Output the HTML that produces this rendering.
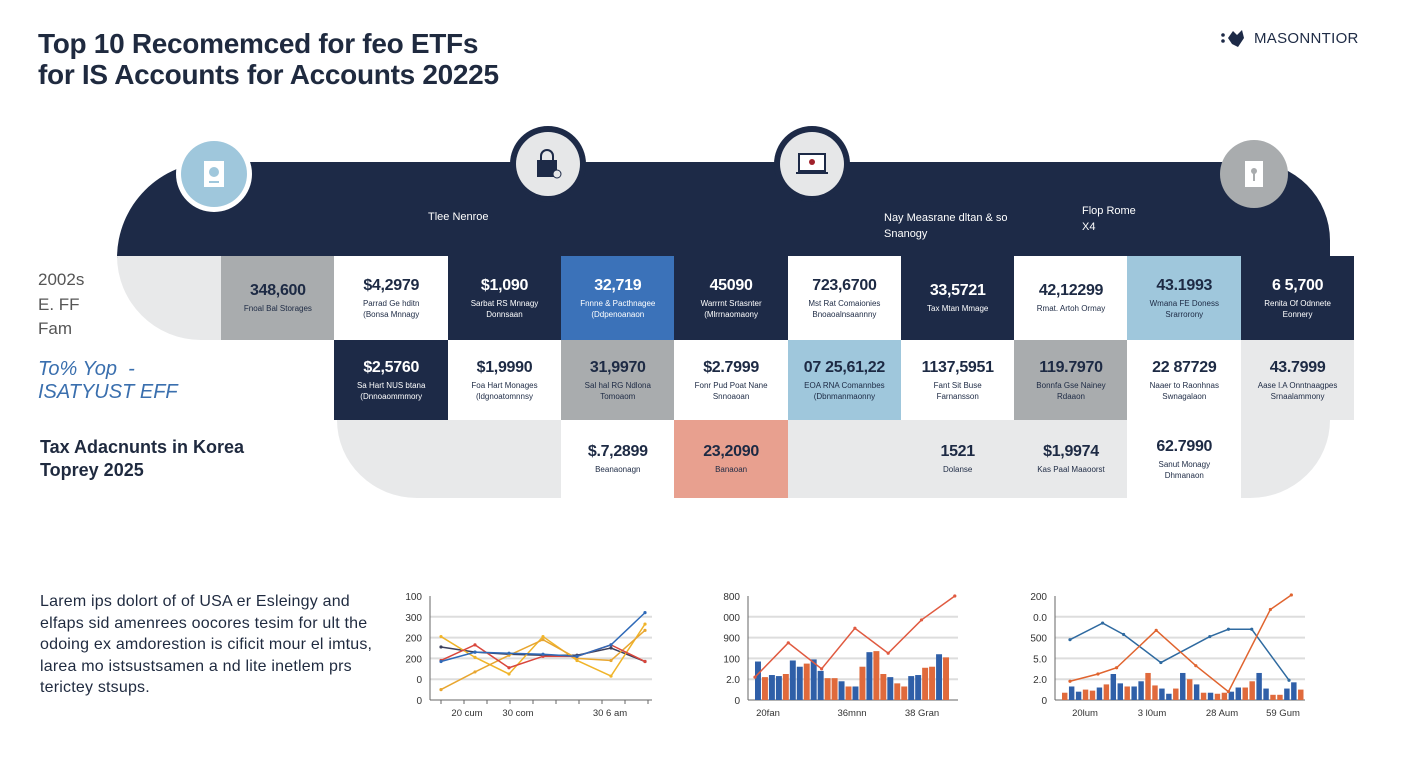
<!DOCTYPE html>
<html><head><meta charset="utf-8">
<style>
*{margin:0;padding:0;box-sizing:border-box}
body{width:1408px;height:768px;background:#fff;position:relative;overflow:hidden;font-family:"Liberation Sans",sans-serif;color:#1d2a44}
.abs{position:absolute}
.title{left:38px;font-weight:bold;font-size:28px;color:#1f2a3f;white-space:nowrap;letter-spacing:-0.3px}
.cell{position:absolute;text-align:center;display:flex;flex-direction:column;justify-content:center;align-items:center}
.cell .v{font-size:16px;font-weight:bold;letter-spacing:-0.3px}
.cell .s{font-size:8px;line-height:11px;margin-top:3px}
.navy{background:#1d2a47;color:#fff}
.white{background:#fff;color:#1d2a44}
.gray{background:#a9acae;color:#1d2a44}
.blue{background:#3b72b9;color:#fff}
.lblue{background:#9fc7dc;color:#1d2a44}
.lgray{background:#e8e9ea;color:#1d2a44}
.salmon{background:#e8a08f;color:#1d2a44}
.clear{background:transparent;color:#1d2a44}
.circle{position:absolute;border-radius:50%;display:flex;align-items:center;justify-content:center}
.band-txt{position:absolute;color:#fff;font-size:11px;line-height:16px}
</style></head><body>
<div class="abs title" style="top:28px">Top 10 Recomemced for feo ETFs</div>
<div class="abs title" style="top:59px">for IS Accounts for Accounts 20225</div>

<div class="abs" style="left:1220px;top:28px;display:flex;align-items:center;gap:6px">
<svg width="28" height="20"><circle cx="3" cy="7" r="1.8" fill="#1d2a47"/><circle cx="3" cy="13" r="1.8" fill="#1d2a47"/><path d="M8 10 L13 3 L17 7 L22 2 L24 10 L18 19 L12 16 Z" fill="#1d2a47"/></svg>
<span style="font-size:15px;color:#1d2a44;letter-spacing:0.3px">MASONNTIOR</span>
</div>

<div class="abs" style="left:117px;top:162px;width:1213px;height:96px;background:#1d2a47;border-radius:110px 90px 0 0"></div>
<div class="abs" style="left:117px;top:256px;width:110px;height:84px;background:#e8e9ea;border-radius:0 0 0 90px"></div>
<div class="abs" style="left:337px;top:420px;width:993px;height:78px;background:#e8e9ea;border-radius:0 0 80px 80px/0 0 78px 78px"></div>

<div class="circle" style="left:176px;top:136px;width:76px;height:76px;background:#fff"><div class="circle" style="left:5px;top:5px;width:66px;height:66px;background:#9fc7dc"><svg width="22" height="28"><rect x="1" y="1" width="20" height="26" fill="#fff"/><circle cx="11" cy="12" r="5" fill="#9fc7dc"/><rect x="6" y="21" width="10" height="2" fill="#9fc7dc"/></svg></div></div>
<div class="circle" style="left:510px;top:126px;width:76px;height:76px;background:#1d2a47"><div class="circle" style="left:6px;top:6px;width:64px;height:64px;background:#e6e7e8"><svg width="30" height="32"><path d="M8 12 V8 a6 6 0 0 1 12 0 V12" stroke="#1d2a47" stroke-width="2" fill="none"/><rect x="4" y="12" width="20" height="17" fill="#1d2a47"/><circle cx="24" cy="26" r="4" fill="#e6e7e8" stroke="#1d2a47"/></svg></div></div>
<div class="circle" style="left:774px;top:126px;width:76px;height:76px;background:#1d2a47"><div class="circle" style="left:6px;top:6px;width:64px;height:64px;background:#e6e7e8"><svg width="32" height="24"><rect x="3" y="2" width="26" height="17" fill="#fff" stroke="#1d2a47" stroke-width="2"/><circle cx="16" cy="10" r="3" fill="#a0202a"/><rect x="0" y="20" width="32" height="2" fill="#1d2a47"/></svg></div></div>
<div class="circle" style="left:1220px;top:140px;width:68px;height:68px;background:#a9acae"><svg width="20" height="28"><rect x="1" y="1" width="18" height="26" fill="#fff"/><circle cx="10" cy="11" r="3" fill="#a9acae"/><rect x="9" y="12" width="2" height="9" fill="#a9acae"/></svg></div>

<div class="band-txt" style="left:428px;top:209px">Tlee Nenroe</div>
<div class="band-txt" style="left:884px;top:210px">Nay Measrane dltan &amp; so<br>Snanogy</div>
<div class="band-txt" style="left:1082px;top:203px">Flop Rome<br>X4</div>

<div class="abs" style="left:38px;top:268px;font-size:17px;color:#555;line-height:24.5px">2002s<br>E. FF<br>Fam</div>
<div class="abs" style="left:38px;top:358px;font-size:20px;color:#3a6fae;font-style:italic;line-height:23px;font-weight:500">To% Yop &nbsp;-<br>ISATYUST EFF</div>
<div class="abs" style="left:40px;top:436px;font-size:18px;font-weight:bold;color:#1f2a3f;line-height:23px">Tax Adacnunts in Korea<br>Toprey 2025</div>

<div id="grid"></div>

<div class="abs" style="left:40px;top:591px;font-size:16px;line-height:21.5px;color:#1f2a3f;letter-spacing:0.2px">Larem ips dolort of of USA er Esleingy and<br>elfaps sid amenrees oocores tesim for ult the<br>odoing ex amdorestion is cificit mour el imtus,<br>larea mo istsustsamen a nd lite inetlem prs<br>terictey stsups.</div>

<svg id="charts" class="abs" style="left:0;top:0" width="1408" height="768"></svg>

<script>
const row1 = [
 ["gray","348,600","Fnoal Bal Storages",""],
 ["white","$4,2979","Parrad Ge hditn","(Bonsa Mnnagy"],
 ["navy","$1,090","Sarbat RS Mnnagy","Donnsaan"],
 ["blue","32,719","Fnnne & Pacthnagee","(Ddpenoanaon"],
 ["navy","45090","Warrrnt Srtasnter","(Mlrrnaomaony"],
 ["white","723,6700","Mst Rat Comaionies","Bnoaoalnsaannny"],
 ["navy","33,5721","Tax Mtan Mmage",""],
 ["white","42,12299","Rmat. Artoh Ormay",""],
 ["lblue","43.1993","Wmana FE Doness","Srarrorony"],
 ["navy","6 5,700","Renita Of Odnnete","Eonnery"]
];
const row2 = [
 ["navy","$2,5760","Sa Hart NUS btana","(Dnnoaommmory"],
 ["white","$1,9990","Foa Hart Monages","(ldgnoatomnnsy"],
 ["gray","31,9970","Sal hal RG Ndlona","Tomoaom"],
 ["white","$2.7999","Fonr Pud Poat Nane","Snnoaoan"],
 ["lblue","07 25,61,22","EOA RNA Comannbes","(Dbnmanmaonny"],
 ["white","1137,5951","Fant Sit Buse","Farnansson"],
 ["gray","119.7970","Bonnfa Gse Nainey","Rdaaon"],
 ["white","22 87729","Naaer to Raonhnas","Swnagalaon"],
 ["lgray","43.7999","Aase l.A Onntnaagpes","Srnaalammony"]
];
const row3 = [
 null,null,
 ["white","$.7,2899","Beanaonagn",""],
 ["salmon","23,2090","Banaoan",""],
 null,
 ["clear","1521","Dolanse",""],
 ["clear","$1,9974","Kas Paal Maaoorst",""],
 ["white","62.7990","Sanut Monagy","Dhmanaon"],
 null
];
const grid=document.getElementById('grid');
const colX0=221, colW=113.3;
function addRow(arr,startCol,top,h,rowName){
 arr.forEach((c,i)=>{
  if(!c) return;
  const d=document.createElement('div');
  d.className='cell '+c[0];
  d.style.left=(colX0+(startCol+i)*colW)+'px';
  d.style.top=top+'px';d.style.width=(colW+0.5)+'px';d.style.height=h+'px';
  
  
  d.innerHTML='<div class="v">'+c[1]+'</div><div class="s">'+c[2]+(c[3]?'<br>'+c[3]:'')+'</div>';
  grid.appendChild(d);
 });
}
addRow(row1,0,256,84,'row1');
addRow(row2,1,340,80,'row2');
addRow(row3,1,420,78,'row3');

const c1Ticks=["100","300","200","200","0","0"];
const c1XLabels=["20 cum","30 com","30 6 am"];
const c1Blue=[37,46,45,44,42,53,84];
const c1Navy=[51,46,44,43,43,50,37];
const c1Red=[38,53,31,42,42,53,37];
const c1Yellow=[61,41,25,61,38,23,73];
const c1Orange=[10,27,43,58,40,38,67];

const c2Ticks=["800","000","900","100","2.0","0"];
const c2XLabels=["20fan","36mnn","38 Gran"];
const c2Line=[22,55,30,69,45,77,100];
const c2Bars=[37,22,24,23,25,38,32,35,39,28,21,21,18,13,13,32,46,47,25,22,16,13,23,24,31,32,44,41];
const c2BarSeries=["b","o","b","b","o","b","b","o","b","b","o","o","b","o","b","o","b","o","o","b","o","o","b","b","o","o","b","o"];

const c3Ticks=["200","0.0","500","5.0","2.0","0"];
const c3XLabels=["20lum","3 l0um","28 Aum","59 Gum"];
const c3BlueX=[3,17,26,42,63,71,81,97];
const c3Blue=[58,74,63,36,61,68,68,19];
const c3OrangeX=[3,15,23,40,57,71,89,98];
const c3Orange=[18,25,31,67,33,8,87,101];
const c3Bars=[7,13,8,10,9,12,15,25,16,13,13,18,26,14,11,6,11,26,20,15,7,7,6,7,8,12,12,18,26,11,5,5,11,17,10];
const c3BarSeries=["o","b","b","o","o","b","o","b","b","o","b","b","o","o","b","b","o","b","o","b","o","b","o","o","b","b","o","o","b","b","o","o","b","b","o"];

const svg=document.getElementById('charts');
const NS='http://www.w3.org/2000/svg';
function el(tag,attrs,parent){const e=document.createElementNS(NS,tag);for(const k in attrs)e.setAttribute(k,attrs[k]);(parent||svg).appendChild(e);return e;}
const BLUE='#2f5fa8',ORANGE='#e06a3c';
function frame(x0,x1,ticks,xlabels,xlabX,name){
 const g=el('g',{});
 
 
 const top=596,bot=700;
 ticks.forEach((t,i)=>{
  const y=top+i*(bot-top)/(ticks.length-1);
  const tx=el('text',{x:x0-8,y:y+4,'font-size':10,'text-anchor':'end',fill:'#333','font-family':'Liberation Sans'},g);
  tx.textContent=t;
  
  
  if(i>0&&i<ticks.length-1) el('line',{x1:x0,x2:x1,y1:y,y2:y,stroke:'#ddd','stroke-width':2},g);
 });
 el('line',{x1:x0,x2:x0,y1:top,y2:bot,stroke:'#666','stroke-width':1},g);
 el('line',{x1:x0,x2:x1,y1:bot,y2:bot,stroke:'#666','stroke-width':1},g);
 xlabels.forEach((l,i)=>{
  const tx=el('text',{x:xlabX[i],y:716,'font-size':9.5,'text-anchor':'middle',fill:'#333','font-family':'Liberation Sans'},g);
  tx.textContent=l;
  
  
 });
 return g;
}
const yS=v=>700-v*104/100;
function line(g,xs,vals,color,name){
 const pts=vals.map((v,i)=>xs(i)+','+yS(v)).join(' ');
 const p=el('polyline',{points:pts,fill:'none',stroke:color,'stroke-width':1.5},g);
 
 
 vals.forEach((v,i)=>el('circle',{cx:xs(i),cy:yS(v),r:1.6,fill:color},g));
}
const g1=frame(430,652,c1Ticks,c1XLabels,[467,518,610],'chart-1');
for(let i=0;i<10;i++){el('line',{x1:441+i*23,x2:441+i*23,y1:700,y2:704,stroke:'#666'},g1);}
const x1=i=>441+i*34;
line(g1,x1,c1Navy,'#3b3f5c','chart1-navy-line');
line(g1,x1,c1Yellow,'#f0b429','chart1-yellow-line');
line(g1,x1,c1Orange,'#e8a630','chart1-orange-line');
line(g1,x1,c1Red,'#d9463c','chart1-red-line');
line(g1,x1,c1Blue,'#2f6ab8','chart1-blue-line');
const g2=frame(748,958,c2Ticks,c2XLabels,[768,852,922],'chart-2');
const bw2=(950-755)/c2Bars.length;
c2Bars.forEach((v,i)=>{
 const r=el('rect',{x:755+i*bw2,y:yS(v),width:bw2-1,height:700-yS(v),fill:c2BarSeries[i]==='b'?BLUE:ORANGE},g2);
 
 
});
line(g2,i=>755+i*33.3,c2Line,'#e05a40','chart2-red-line');
const g3=frame(1055,1305,c3Ticks,c3XLabels,[1085,1152,1222,1283],'chart-3');
const bw3=(1305-1062)/c3Bars.length;
c3Bars.forEach((v,i)=>{
 const r=el('rect',{x:1062+i*bw3,y:yS(v),width:bw3-1.5,height:700-yS(v),fill:c3BarSeries[i]==='b'?BLUE:ORANGE},g3);
 
 
});
const xs3=v=>1063+v*(1296-1063)/100;
line(g3,i=>xs3(c3BlueX[i]),c3Blue,'#2f6aa0','chart3-blue-line');
line(g3,i=>xs3(c3OrangeX[i]),c3Orange,'#e0642f','chart3-orange-line');
</script>
</body></html>
